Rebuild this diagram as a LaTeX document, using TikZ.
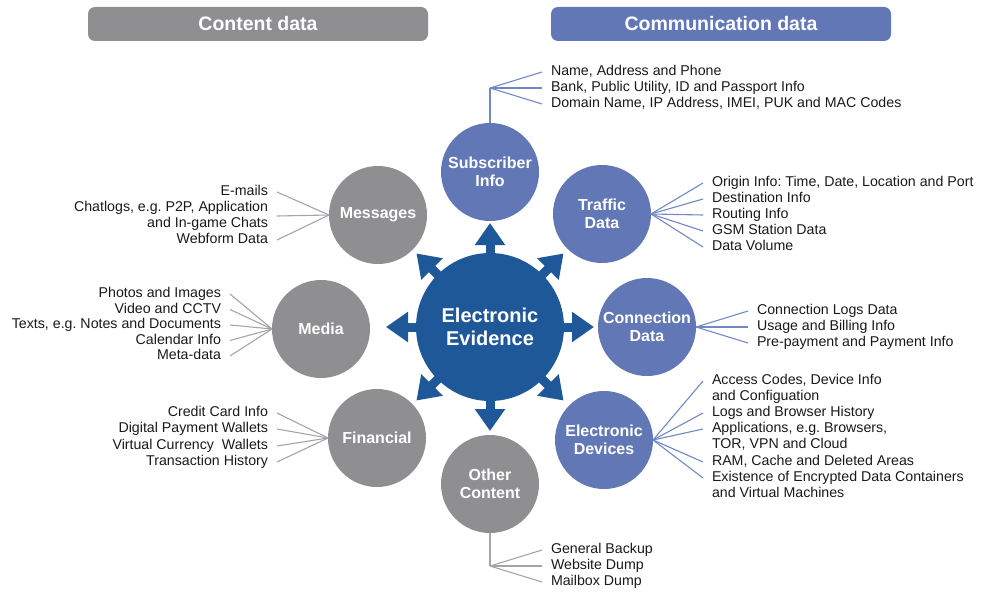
\documentclass[tikz,border=0pt]{standalone}
\usepackage{fontspec}
\setmainfont{Liberation Sans}
\usepackage{xcolor}
\usetikzlibrary{arrows.meta,calc}
\frenchspacing

\definecolor{evblue}{RGB}{31,88,152}
\definecolor{comblue}{RGB}{98,120,182}
\definecolor{congray}{RGB}{143,143,145}
\definecolor{fangray}{RGB}{165,165,167}
\definecolor{fanblue}{RGB}{112,136,198}
\definecolor{itemtext}{RGB}{25,25,25}

\begin{document}
\begin{tikzpicture}[x=1pt,y=-1pt,
    topic/.style={circle,minimum size=98pt,inner sep=0pt,outer sep=0pt,text=white,align=center,
        font=\fontsize{16}{18.5}\selectfont\bfseries},
    ctopic/.style={topic,fill=congray},
    mtopic/.style={topic,fill=comblue},
    headbar/.style={rounded corners=7pt,minimum width=340pt,minimum height=34pt,text=white,
        font=\fontsize{19.5}{21}\selectfont\bfseries},
    itemL/.style={anchor=east,inner xsep=9pt,inner ysep=0pt,outer sep=0pt,text height=10pt,
        text depth=3pt,text=itemtext,font=\fontsize{14.2}{16}\selectfont},
    itemR/.style={itemL,anchor=west},
    cfan/.style={draw=fangray,line width=1.1pt},
    mfan/.style={draw=fanblue,line width=1.1pt},
    bigarrow/.style={evblue,line width=9pt,-{Triangle[width=29pt,length=22pt]}}]
    \useasboundingbox (0,0) rectangle (984,591);

    \node[headbar,fill=congray] (hcont) at (258,24) {Content data};
    \node[headbar,fill=comblue] (hcomm) at (721,24) {Communication data};

    \node[circle,fill=evblue,minimum size=148pt,inner sep=0pt,outer sep=0pt,text=white,align=center,
        font=\fontsize{20}{23.5}\selectfont\bfseries] (ev) at (490,327) {Electronic\\Evidence};
    \foreach \a in {0,45,...,315}
        \draw[bigarrow] ($(ev.center)!68pt!(ev.\a)$) -- ($(ev.center)!104pt!(ev.\a)$);

    \node[mtopic] (sub) at (490,172) {Subscriber\\Info};
    \node[mtopic] (traf) at (602,214) {Traffic\\Data};
    \node[mtopic] (conn) at (647,327) {Connection\\Data};
    \node[mtopic] (dev) at (604,440) {Electronic\\Devices};
    \node[ctopic] (oth) at (490,484) {Other\\Content};
    \node[ctopic] (fin) at (377,438) {Financial};
    \node[ctopic] (med) at (321,329) {Media};
    \node[ctopic] (msg) at (378,215) {Messages};

    % communication data
    \coordinate (subj) at (490,88);
    \node[itemR] (sub1) at (542,72) {Name, Address and Phone};
    \node[itemR] (sub2) at (542,88) {Bank, Public Utility, ID and Passport Info};
    \node[itemR] (sub3) at (542,104) {Domain Name, IP Address, IMEI, PUK and MAC Codes};
    \draw[mfan] (sub.north) -- (subj);
    \foreach \i in {1,2,3} \draw[mfan] (subj) -- (sub\i.west);

    \node[itemR] (traf1) at (703,183) {Origin Info: Time, Date, Location and Port};
    \node[itemR] (traf2) at (703,199) {Destination Info};
    \node[itemR] (traf3) at (703,215) {Routing Info};
    \node[itemR] (traf4) at (703,231) {GSM Station Data};
    \node[itemR] (traf5) at (703,247) {Data Volume};
    \foreach \i in {1,...,5} \draw[mfan] (traf.east) -- (traf\i.west);

    \node[itemR] (conn1) at (748,311) {Connection Logs Data};
    \node[itemR] (conn2) at (748,327) {Usage and Billing Info};
    \node[itemR] (conn3) at (748,343) {Pre-payment and Payment Info};
    \foreach \i in {1,2,3} \draw[mfan] (conn.east) -- (conn\i.west);

    \node[itemR] (dev1) at (703,381) {Access Codes, Device Info};
    \node[itemR] (dev2) at (703,397) {and Configuation};
    \node[itemR] (dev3) at (703,413) {Logs and Browser History};
    \node[itemR] (dev4) at (703,429) {Applications, e.g. Browsers,};
    \node[itemR] (dev5) at (703,445) {TOR, VPN and Cloud};
    \node[itemR] (dev6) at (703,462) {RAM, Cache and Deleted Areas};
    \node[itemR] (dev7) at (703,478) {Existence of Encrypted Data Containers};
    \node[itemR] (dev8) at (703,494) {and Virtual Machines};
    \foreach \i in {1,3,4,6,7} \draw[mfan] (dev.east) -- (dev\i.west);

    % content data
    \coordinate (othj) at (490,566);
    \node[itemR] (oth1) at (542,550) {General Backup};
    \node[itemR] (oth2) at (542,566) {Website Dump};
    \node[itemR] (oth3) at (542,582) {Mailbox Dump};
    \draw[cfan] (oth.south) -- (othj);
    \foreach \i in {1,2,3} \draw[cfan] (othj) -- (oth\i.west);

    \node[itemL] (fin1) at (277,413) {Credit Card Info};
    \node[itemL] (fin2) at (277,429) {Digital Payment Wallets};
    \node[itemL] (fin3) at (277,446) {Virtual Currency~ Wallets};
    \node[itemL] (fin4) at (277,462) {Transaction History};
    \foreach \i in {1,...,4} \draw[cfan] (fin.west) -- (fin\i.east);

    \node[itemL] (med1) at (230,294) {Photos and Images};
    \node[itemL] (med2) at (230,309.5) {Video and CCTV};
    \node[itemL] (med3) at (230,325) {Texts, e.g. Notes and Documents};
    \node[itemL] (med4) at (230,340.5) {Calendar Info};
    \node[itemL] (med5) at (230,356) {Meta-data};
    \foreach \i in {1,...,5} \draw[cfan] (med.west) -- (med\i.east);

    \node[itemL] (msg1) at (277,192) {E-mails};
    \node[itemL] (msg2) at (277,208) {Chatlogs, e.g. P2P, Application};
    \node[itemL] (msg3) at (277,224) {and In-game Chats};
    \node[itemL] (msg4) at (277,240) {Webform Data};
    \draw[cfan] (msg.west) -- (msg1.east);
    \draw[cfan] (msg.west) -- ($(msg2.east)!0.5!(msg3.east)$);
    \draw[cfan] (msg.west) -- (msg4.east);
\end{tikzpicture}
\end{document}
